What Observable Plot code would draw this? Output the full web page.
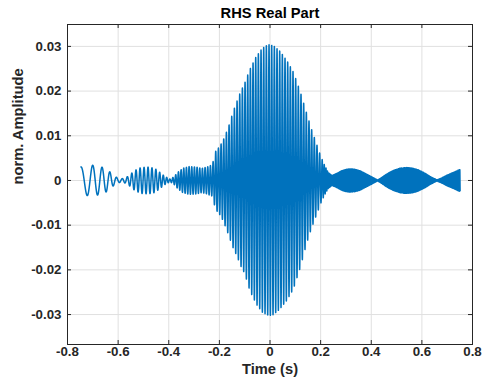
<!DOCTYPE html>
<html>
<head>
<meta charset="utf-8">
<script src="https://cdn.jsdelivr.net/npm/d3@7"></script>
<script src="https://cdn.jsdelivr.net/npm/@observablehq/plot@0.6"></script>
<style>
  html, body { margin: 0; padding: 0; background: #fff; }
</style>
</head>
<body>
<div id="chart"></div>
<script>
// ---- Data ----
const title = "RHS Real Part";
const xLabel = "Time (s)";
const yLabel = "norm. Amplitude";
const xTicks = [-0.8, -0.6, -0.4, -0.2, 0, 0.2, 0.4, 0.6, 0.8];
const yTicks = [-0.03, -0.02, -0.01, 0, 0.01, 0.02, 0.03];
const xDomain = [-0.8, 0.8];
const yDomain = [-0.0367, 0.0349];

// signal extent (s)
const tStart = -0.747;
const tEnd = 0.751;

// envelope: time (s), upper amplitude, lower amplitude (magnitude)
const envT  = [-0.75, -0.72, -0.69, -0.665, -0.645, -0.63, -0.615, -0.60, -0.585, -0.57, -0.555, -0.535, -0.51, -0.48, -0.455, -0.435, -0.415, -0.395, -0.38, -0.365, -0.345, -0.32, -0.29, -0.27, -0.25, -0.228, -0.215, -0.20, -0.185, -0.165, -0.145, -0.13, -0.115, -0.10, -0.08, -0.055, -0.03, -0.01, 0, 0.015, 0.04, 0.067, 0.093, 0.12, 0.145, 0.165, 0.185, 0.20, 0.215, 0.23, 0.245, 0.265, 0.28, 0.30, 0.317, 0.335, 0.355, 0.375, 0.395, 0.415, 0.425, 0.44, 0.46, 0.485, 0.51, 0.535, 0.56, 0.585, 0.61, 0.635, 0.66, 0.68, 0.70, 0.725, 0.751];
const envUp = [0.0030, 0.0034, 0.0034, 0.0030, 0.0025, 0.0018, 0.0010, 0.0005, 0.0004, 0.0006, 0.0012, 0.0022, 0.0029, 0.0030, 0.0027, 0.0018, 0.0009, 0.0003, 0.0008, 0.0018, 0.0027, 0.0031, 0.0030, 0.0027, 0.0030, 0.0035, 0.0065, 0.0075, 0.0090, 0.0118, 0.0155, 0.0178, 0.0200, 0.0218, 0.0248, 0.0277, 0.0296, 0.0303, 0.0304, 0.0301, 0.0289, 0.0268, 0.0242, 0.0198, 0.0150, 0.0113, 0.0080, 0.0055, 0.0035, 0.0018, 0.0011, 0.0016, 0.0021, 0.0025, 0.0026, 0.0025, 0.0022, 0.0016, 0.0010, 0.0004, 0.0001, 0.0006, 0.0014, 0.0022, 0.0027, 0.0029, 0.0028, 0.0024, 0.0017, 0.0008, 0.0001, 0.0006, 0.0012, 0.0018, 0.0025];
const envLo = [0.0030, 0.0034, 0.0034, 0.0030, 0.0025, 0.0018, 0.0010, 0.0005, 0.0004, 0.0006, 0.0012, 0.0022, 0.0029, 0.0030, 0.0027, 0.0018, 0.0009, 0.0003, 0.0008, 0.0018, 0.0027, 0.0031, 0.0030, 0.0027, 0.0030, 0.0035, 0.0065, 0.0075, 0.0090, 0.0120, 0.0152, 0.0170, 0.0192, 0.0208, 0.0246, 0.0276, 0.0295, 0.0301, 0.0302, 0.0300, 0.0287, 0.0268, 0.0242, 0.0194, 0.0140, 0.0105, 0.0075, 0.0052, 0.0033, 0.0018, 0.0011, 0.0016, 0.0021, 0.0025, 0.0026, 0.0025, 0.0022, 0.0016, 0.0010, 0.0004, 0.0001, 0.0006, 0.0014, 0.0022, 0.0027, 0.0029, 0.0028, 0.0024, 0.0017, 0.0008, 0.0001, 0.0006, 0.0012, 0.0018, 0.0025];

// oscillation rate (cycles per second)
const freqT  = [-0.75, -0.72, -0.69, -0.66, -0.635, -0.61, -0.58, -0.55, -0.52, -0.45, -0.42, -0.39, -0.36, 0.20, 0.22, 0.25, 0.45, 0.75];
const freqHz = [18, 22, 26, 30, 35, 40, 48, 58, 63, 65, 72, 85, 95, 95, 150, 300, 350, 400];

// ---- Build the series ----
const up = d3.scaleLinear().domain(envT).range(envUp).clamp(true);
const lo = d3.scaleLinear().domain(envT).range(envLo).clamp(true);
const fr = d3.scaleLinear().domain(freqT).range(freqHz).clamp(true);
const dt = 0.0002;
const n = Math.round((tEnd - tStart) / dt);
const signal = [];
let phase = 0;
for (let i = 0; i <= n; ++i) {
  const t = tStart + i * dt;
  const U = up(t), L = lo(t);
  signal.push({t, v: (U - L) / 2 + (U + L) / 2 * Math.cos(phase)});
  phase += 2 * Math.PI * fr(t) * dt;
}

// ---- Layout ----
const W = 486, H = 382;
const mL = 67, mR = 14, mT = 24, mB = 38;
const iw = W - mL - mR, ih = H - mT - mB;
const axisColor = "#262626";
const fmtX = d => d === 0 ? "0" : d.toFixed(1);
const fmtY = d => d === 0 ? "0" : d.toFixed(2);

const chart = Plot.plot({
  width: W,
  height: H,
  marginLeft: mL,
  marginRight: mR,
  marginTop: mT,
  marginBottom: mB,
  style: {fontFamily: "'Liberation Sans', Arial, Helvetica, sans-serif", fontWeight: "bold", background: "#fff", overflow: "visible"},
  x: {domain: xDomain},
  y: {domain: yDomain},
  marks: [
    Plot.gridX(xTicks, {stroke: "#e0e0e0", strokeOpacity: 1}),
    Plot.gridY(yTicks, {stroke: "#e0e0e0", strokeOpacity: 1}),
    Plot.line(signal, {x: "t", y: "v", stroke: "#0072BD", strokeWidth: 1.5}),
    Plot.frame({stroke: axisColor}),
    // inward ticks on all four sides
    Plot.ruleX(xTicks, {x: d => d, insetTop: ih - 4, stroke: axisColor}),
    Plot.ruleX(xTicks, {x: d => d, insetBottom: ih - 4, stroke: axisColor}),
    Plot.ruleY(yTicks, {y: d => d, insetRight: iw - 4, stroke: axisColor}),
    Plot.ruleY(yTicks, {y: d => d, insetLeft: iw - 4, stroke: axisColor}),
    Plot.axisX(xTicks, {tickSize: 0, tickPadding: 2, tickFormat: fmtX, label: null, fontSize: 13.3, fontWeight: "bold", fill: axisColor}),
    Plot.axisY(yTicks, {tickSize: 0, tickPadding: 6, tickFormat: fmtY, label: null, fontSize: 13.3, fontWeight: "bold", fill: axisColor}),
    Plot.text([xLabel], {text: d => d, frameAnchor: "bottom", dy: 25, lineAnchor: "middle", fontSize: 14.7, fontWeight: "bold", fill: axisColor}),
    Plot.text([yLabel], {text: d => d, frameAnchor: "left", dx: -49, rotate: -90, lineAnchor: "middle", fontSize: 14.7, fontWeight: "bold", fill: axisColor}),
    Plot.text([title], {text: d => d, frameAnchor: "top", dy: -11, lineAnchor: "middle", fontSize: 14.7, fontWeight: "bold", fill: "#000"})
  ]
});
document.getElementById("chart").appendChild(chart);
</script>
</body>
</html>
